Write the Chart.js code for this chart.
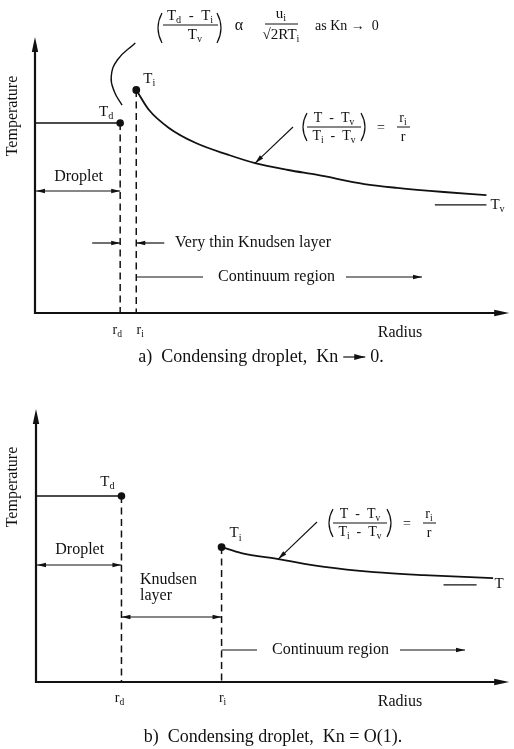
<!DOCTYPE html>
<html><head><meta charset="utf-8">
<script src="https://cdn.jsdelivr.net/npm/chart.js@4.4.1/dist/chart.umd.min.js"></script>
<style>
html,body{margin:0;padding:0;background:#fff;}
#wrap{position:relative;width:514px;height:749px;}
canvas{position:absolute;left:0;}
</style></head>
<body>
<div id="wrap">
<canvas id="ca" width="514" height="372" style="top:0"></canvas>
<canvas id="cb" width="514" height="377" style="top:372px"></canvas>
</div>
<script>
// ---------- DATA (x = radius units 0..100, y = temperature units 0..100) ----------
// Panel a: Kn -> 0
const rdA = 18.0, riA = 21.4;
const TdA = 69.1, TiA = 81.1, TvA = 39.3;
const curveAx = [21.4, 24.1, 28.3, 34.0, 40.9, 46.5, 53.5, 59.7, 69.6, 76.5, 86.4, 95.4];
const curveAy = [81.1, 73.8, 67.3, 61.8, 57.5, 54.5, 52.0, 50.2, 46.9, 45.5, 44.0, 42.9];
const tvLineAx = [84.5, 95.4];
const bracketAx = [21.2, 17.4, 16.1, 16.8, 18.4];
const bracketAy = [98.2, 92.0, 85.8, 80.4, 75.6];
// Panel b: Kn = O(1)
const rdB = 18.1, riB = 39.3;
const TdB = 68.4, TiB = 49.6, TvB = 35.7;
const curveBx = [39.3, 43.5, 51.3, 61.1, 71.6, 82.1, 96.8];
const curveBy = [49.6, 47.4, 45.2, 42.3, 40.4, 39.3, 38.2];
const tvLineBx = [86.3, 93.3];
// tick labels on radius axis
const tickLabels = ['r_d', 'r_i'];

// ---------- helpers ----------
const FONT = '"Liberation Serif", "DejaVu Serif", serif';
const INK = '#111';
function pts(xs, ys){ return xs.map((v,i)=>({x:v, y:ys[i]})); }
function parse(s){
  const out=[];
  for(let i=0;i<s.length;i++){
    if(s[i]==='_'){ out.push([s[i+1],true]); i++; }
    else if(out.length && !out[out.length-1][1]) out[out.length-1][0]+=s[i];
    else out.push([s[i],false]);
  }
  return out;
}
function rich(ctx, s, x, y, size, align){
  const parts=parse(s);
  const ss=size*0.68;
  let total=0;
  const w=parts.map(p=>{ctx.font=(p[1]?ss:size)+'px '+FONT; const m=ctx.measureText(p[0]).width; total+=m; return m;});
  let cx = align==='center'? x-total/2 : (align==='right'? x-total : x);
  ctx.textAlign='left'; ctx.textBaseline='middle'; ctx.fillStyle=INK;
  parts.forEach((p,i)=>{
    ctx.font=(p[1]?ss:size)+'px '+FONT;
    ctx.fillText(p[0], cx, p[1]? y+size*0.32 : y);
    cx+=w[i];
  });
}
function line(ctx,x1,y1,x2,y2,lw){ctx.beginPath();ctx.lineWidth=lw||1.3;ctx.strokeStyle=INK;ctx.moveTo(x1,y1);ctx.lineTo(x2,y2);ctx.stroke();}
function head(ctx,x1,y1,x2,y2,len,hw){
  const a=Math.atan2(y2-y1,x2-x1);
  ctx.beginPath();ctx.fillStyle=INK;
  ctx.moveTo(x2,y2);
  ctx.lineTo(x2-len*Math.cos(a)+hw*Math.sin(a), y2-len*Math.sin(a)-hw*Math.cos(a));
  ctx.lineTo(x2-len*Math.cos(a)-hw*Math.sin(a), y2-len*Math.sin(a)+hw*Math.cos(a));
  ctx.closePath();ctx.fill();
}
function arrow(ctx,x1,y1,x2,y2,lw){ line(ctx,x1,y1,x2,y2,lw||1.2); head(ctx,x1,y1,x2,y2,9,2.3); }
function dblArrow(ctx,x1,y,x2){ line(ctx,x1,y,x2,y,1.2); head(ctx,x2,y,x1,y,9,2.3); head(ctx,x1,y,x2,y,9,2.3); }
function paren(ctx,x,yT,yB,left){
  ctx.beginPath();ctx.lineWidth=1.2;ctx.strokeStyle=INK;
  const d=left?5:-5;
  ctx.moveTo(x+d,yT);ctx.quadraticCurveTo(x-d*0.6,(yT+yB)/2,x+d,yB);ctx.stroke();
}
function text(ctx,s,x,y,size,align){ctx.font=size+'px '+FONT;ctx.fillStyle=INK;ctx.textAlign=align||'left';ctx.textBaseline='middle';ctx.fillText(s,x,y);}
function tw(ctx,s,size){ctx.font=size+'px '+FONT;return ctx.measureText(s).width;}
// caption with a long drawn arrow: pre + [arrow] + post, or plain text
function caption(ctx,pre,post,cx,y,size,withArrow){
  const aw=withArrow?22:0, gap=withArrow?5:0;
  const w1=tw(ctx,pre,size), w2=tw(ctx,post,size);
  const total=w1+gap+aw+gap+w2;
  let x=cx-total/2;
  text(ctx,pre,x,y,size,'left'); x+=w1;
  if(withArrow){ x+=gap; line(ctx,x,y,x+aw,y,1.2); head(ctx,x,y,x+aw,y,11,3); x+=aw+gap; }
  text(ctx,post,x,y,size,'left');
}
function axes(ctx,ca){
  ctx.beginPath();ctx.lineWidth=2.2;ctx.strokeStyle=INK;
  ctx.moveTo(ca.left,ca.top+6);ctx.lineTo(ca.left,ca.bottom);ctx.lineTo(ca.right-6,ca.bottom);ctx.stroke();
  head(ctx,ca.left,ca.bottom,ca.left,ca.top-1,15,3.2);
  head(ctx,ca.left,ca.bottom,ca.right+1,ca.bottom,15,3.2);
}
function ratioFormula(ctx,x0,yc){
  paren(ctx,x0,yc-14,yc+14,true);
  rich(ctx,'T  -  T_v',x0+32,yc-9,14,'center');
  line(ctx,x0+5,yc,x0+59,yc,1);
  rich(ctx,'T_i  -  T_v',x0+32,yc+9,14,'center');
  paren(ctx,x0+64,yc-14,yc+14,false);
  text(ctx,'=',x0+79,yc+1,14,'center');
  rich(ctx,'r_i',x0+101,yc-9,14,'center');
  line(ctx,x0+95,yc,x0+108,yc,1);
  text(ctx,'r',x0+101,yc+10,14,'center');
}

function lineDs(data, opts){
  return Object.assign({data, borderColor:INK, backgroundColor:INK, borderWidth:1.6, pointRadius:0, fill:false, tension:0}, opts||{});
}
const dash=[7,4.5];
function baseOptions(pad){
  return {
    responsive:false, animation:false, devicePixelRatio:1,
    layout:{padding:pad},
    scales:{ x:{type:'linear',min:0,max:100,display:false}, y:{type:'linear',min:0,max:100,display:false} },
    plugins:{legend:{display:false},tooltip:{enabled:false}}
  };
}

// ---------- Panel a ----------
const annA={id:'annA', afterDraw(chart){
  const {ctx, chartArea:ca, scales:{x,y}}=chart; const X=v=>x.getPixelForValue(v), Y=v=>y.getPixelForValue(v);
  ctx.save();
  axes(ctx,ca);
  ctx.save();ctx.translate(13,116);ctx.rotate(-Math.PI/2);text(ctx,'Temperature',0,0,16,'center');ctx.restore();
  rich(ctx,'T_d',X(rdA)-14,Y(TdA)-11,15,'center');
  rich(ctx,'T_i',X(riA)+13,Y(TiA)-11,15,'center');
  rich(ctx,'T_v',X(tvLineAx[1])+4,Y(TvA),15,'left');
  text(ctx,'Droplet',(ca.left+X(rdA))/2+1,177,16,'center');
  dblArrow(ctx,ca.left+1,191,X(rdA));
  arrow(ctx,X(rdA)-28,243,X(rdA),243);
  arrow(ctx,X(riA)+28,243,X(riA),243);
  text(ctx,'Very thin Knudsen layer',175,243,16,'left');
  line(ctx,X(riA),277,203,277,1.2);
  text(ctx,'Continuum region',218,277,16,'left');
  arrow(ctx,346,277,422,277);
  rich(ctx,tickLabels[0],X(rdA)-3,Y(0)+17,14,'center');
  rich(ctx,tickLabels[1],X(riA)+4,Y(0)+17,14,'center');
  text(ctx,'Radius',400,333,16,'center');
  caption(ctx,'a)  Condensing droplet,  Kn','0.',261,357,18,true);
  // top formula
  paren(ctx,157,13,43,true);
  rich(ctx,'T_d  -  T_i',190,16,15,'center');
  line(ctx,163,25,218,25,1);
  rich(ctx,'T_v',195,35,15,'center');
  paren(ctx,222,13,43,false);
  text(ctx,'\u03b1',239,26,16,'center');
  rich(ctx,'u_i',281,14,15,'center');
  line(ctx,265,24,298,24,1);
  rich(ctx,'\u221a2RT_i',281,35,15,'center');
  text(ctx,'as Kn \u2192  0',315,26,14,'left');
  ratioFormula(ctx,302,127);
  arrow(ctx,293,127,X(46.5),Y(54.5),1.1);
  ctx.restore();
}};
new Chart(document.getElementById('ca'),{
  type:'line',
  data:{datasets:[
    lineDs([{x:0,y:TdA},{x:rdA,y:TdA}],{pointRadius:[0,3]}),
    lineDs([{x:rdA,y:TdA},{x:rdA,y:0}],{borderDash:dash,borderWidth:1.5}),
    lineDs([{x:riA,y:TiA},{x:riA,y:0}],{borderDash:dash,borderWidth:1.5}),
    lineDs(pts(curveAx,curveAy),{cubicInterpolationMode:'monotone',pointRadius:curveAx.map((v,i)=>i===0?3:0),borderWidth:1.8}),
    lineDs(pts(tvLineAx,[TvA,TvA]),{borderWidth:1.2}),
    lineDs(pts(bracketAx,bracketAy),{tension:0.45,borderWidth:1.4})
  ]},
  options:baseOptions({left:35,top:38,right:2,bottom:59}),
  plugins:[annA]
});

// ---------- Panel b ----------
const annB={id:'annB', afterDraw(chart){
  const {ctx, chartArea:ca, scales:{x,y}}=chart; const X=v=>x.getPixelForValue(v), Y=v=>y.getPixelForValue(v);
  ctx.save();
  axes(ctx,ca);
  ctx.save();ctx.translate(13,115);ctx.rotate(-Math.PI/2);text(ctx,'Temperature',0,0,16,'center');ctx.restore();
  rich(ctx,'T_d',X(rdB)-14,Y(TdB)-14,15,'center');
  rich(ctx,'T_i',X(riB)+14,Y(TiB)-14,15,'center');
  rich(ctx,'T',X(tvLineBx[1])+18,Y(TvB)-1,15,'left');
  text(ctx,'Droplet',(ca.left+X(rdB))/2+1,178,16,'center');
  dblArrow(ctx,ca.left+1,193,X(rdB));
  text(ctx,'Knudsen',140,208,16,'left');
  text(ctx,'layer',140,224,16,'left');
  dblArrow(ctx,X(rdB),245,X(riB));
  line(ctx,X(riB),278,257,278,1.2);
  text(ctx,'Continuum region',272,278,16,'left');
  arrow(ctx,400,278,465,278);
  rich(ctx,tickLabels[0],X(rdB)-2,Y(0)+16,14,'center');
  rich(ctx,tickLabels[1],X(riB)+1,Y(0)+16,14,'center');
  text(ctx,'Radius',400,330,16,'center');
  caption(ctx,'b)  Condensing droplet,  Kn = O(1).','',273,365,18,false);
  ratioFormula(ctx,328,151);
  arrow(ctx,317,150,X(51.3),Y(45.2),1.1);
  ctx.restore();
}};
new Chart(document.getElementById('cb'),{
  type:'line',
  data:{datasets:[
    lineDs([{x:0,y:TdB},{x:rdB,y:TdB}],{pointRadius:[0,3]}),
    lineDs([{x:rdB,y:TdB},{x:rdB,y:0}],{borderDash:dash,borderWidth:1.5}),
    lineDs([{x:riB,y:TiB},{x:riB,y:0}],{borderDash:dash,borderWidth:1.5}),
    lineDs(pts(curveBx,curveBy),{cubicInterpolationMode:'monotone',pointRadius:curveBx.map((v,i)=>i===0?3:0),borderWidth:1.8}),
    lineDs(pts(tvLineBx,[TvB,TvB]),{borderWidth:1.2})
  ]},
  options:baseOptions({left:36,top:38,right:2,bottom:67}),
  plugins:[annB]
});
</script>
</body></html>
